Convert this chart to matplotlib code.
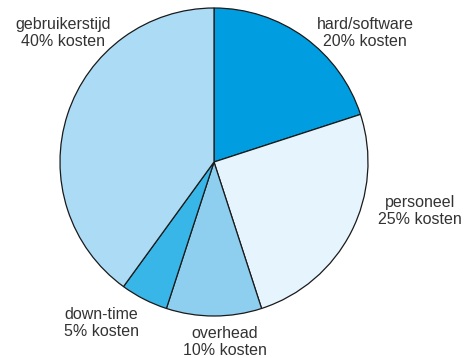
import matplotlib
matplotlib.use("Agg")
import matplotlib.pyplot as plt

labels = ["hard/software", "personeel", "overhead", "down-time", "gebruikerstijd"]
values = [20, 25, 10, 5, 40]
colors = ["#009ee0", "#e6f5fd", "#8ecff0", "#38b6e8", "#acdcf5"]
# label anchor positions (pixels from top-left)
label_pos = [(365, 33), (420, 211), (225, 342), (101, 323), (63, 33)]

W, H = 470, 358
fig = plt.figure(figsize=(W / 100, H / 100), dpi=100)
ax = fig.add_axes([0, 0, 1, 1])

cx, cy, r = 214, H - 162, 154
ax.pie(values, colors=colors, startangle=90, counterclock=False,
       center=(cx, cy), radius=r, frame=True,
       wedgeprops=dict(edgecolor="#1a1a1a", linewidth=0.9))
ax.set_xlim(0, W)
ax.set_ylim(0, H)
ax.set_aspect("auto")
ax.axis("off")

for lab, v, (x, y) in zip(labels, values, label_pos):
    ax.text(x, H - y, f"{lab}\n{v}% kosten", ha="center", va="center",
            multialignment="center", fontsize=11.5, color="#333333",
            family="Liberation Sans", linespacing=1.15)

fig.savefig("out.png", dpi=100)
